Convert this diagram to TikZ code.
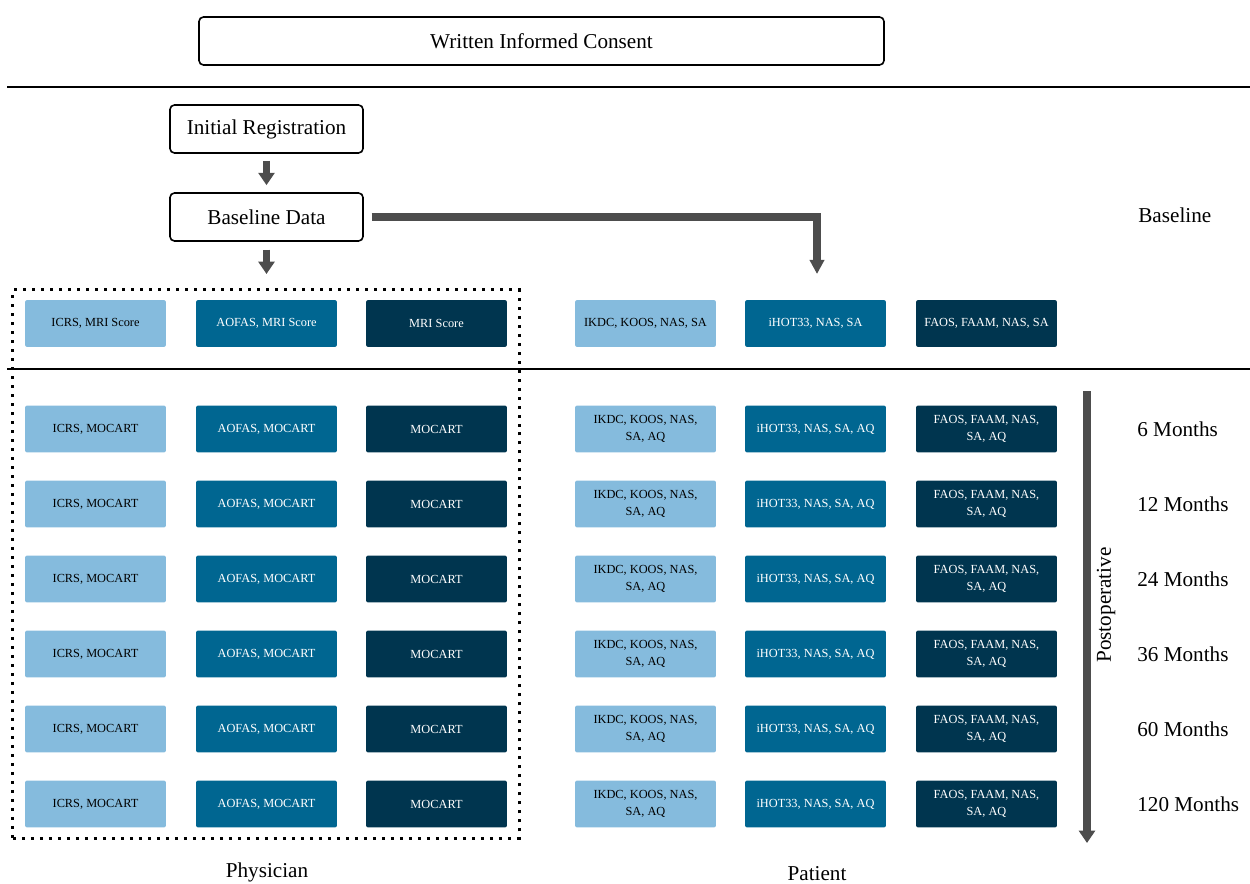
\documentclass[tikz,border=0pt]{standalone}
\usepackage{fontspec}
\setmainfont{Liberation Serif}
\usetikzlibrary{arrows.meta}
\definecolor{lightb}{HTML}{85BBDD}
\definecolor{midb}{HTML}{006691}
\definecolor{darkb}{HTML}{00354F}
\definecolor{arrowgray}{HTML}{4D4D4D}
\begin{document}
\begin{tikzpicture}[x=0.5669pt,y=-0.5669pt,
 frame/.style={draw=black, line width=0.9pt, rounded corners=2.5pt, fill=white, font=\fontsize{12}{14}\selectfont, inner sep=0pt},
 cell/.style={rounded corners=1.2pt, minimum width=79.9pt, minimum height=26.6pt, inner sep=0pt, align=center, font=\fontsize{7}{9.5}\selectfont},
 c1/.style={cell, fill=lightb, text=black},
 c2/.style={cell, fill=midb, text=white},
 c3/.style={cell, fill=darkb, text=white},
 bigarrow/.style={draw=arrowgray, line width=4pt, -{Triangle[width=9pt,length=7pt]}},
 rule/.style={draw=black, line width=1.1pt},
 lbl/.style={font=\fontsize{12}{14}\selectfont, inner sep=0pt}
]
\useasboundingbox (0,0) rectangle (1250,884);

% top boxes
\node[frame, minimum width=388.3pt, minimum height=27.2pt] (wic) at (541.5,41) {Written Informed Consent};
\node[frame, minimum width=109.4pt, minimum height=27.2pt] (ir) at (266.5,129) {Initial Registration};
\node[frame, minimum width=109.4pt, minimum height=27.2pt] (bd) at (266.5,217) {Baseline Data};

% horizontal rules
\coordinate (l1a) at (7,87); \coordinate (l1b) at (1250,87);
\coordinate (l2a) at (7,369); \coordinate (l2b) at (1250,369);
\draw[rule] (l1a) -- (l1b);
\draw[rule] (l2a) -- (l2b);

% arrows
\coordinate (pa) at (266.5,274);
\coordinate (pb) at (817,274);
\draw[bigarrow, shorten <=4pt, shorten >=4pt] (ir) -- (bd);
\draw[bigarrow, shorten <=4.5pt] (bd) -- (pa);
\draw[draw=arrowgray, line width=4.5pt, -{Triangle[width=8pt,length=8pt]}, shorten <=4.5pt] (bd.east) -| (pb);

% physician dotted frame
\node[draw=black, line width=1.7pt, dash pattern=on 1.7pt off 3.4pt, minimum width=286.9pt, minimum height=310.7pt, inner sep=0pt] (phys) at (266,564) {};

% baseline row
\node[c1] (b1) at (95.5,323.5) {ICRS, MRI Score};
\node[c2] (b2) at (266.5,323.5) {AOFAS, MRI Score};
\node[c3] (b3) at (436.5,323.5) {MRI Score};
\node[c1] (b4) at (645.5,323.5) {IKDC, KOOS, NAS, SA};
\node[c2] (b5) at (815.5,323.5) {iHOT33, NAS, SA};
\node[c3] (b6) at (986.5,323.5) {FAOS, FAAM, NAS, SA};
\node[lbl, anchor=west] (basel) at (1138,215) {Baseline};

% postoperative rows
\foreach \y/\m [count=\i] in {429/6, 504/12, 579/24, 654/36, 729/60, 804/120} {
  \node[c1] (r\i a) at (95.5,\y) {ICRS, MOCART};
  \node[c2] (r\i b) at (266.5,\y) {AOFAS, MOCART};
  \node[c3] (r\i c) at (436.5,\y) {MOCART};
  \node[c1] (r\i d) at (645.5,\y) {IKDC, KOOS, NAS,\\SA, AQ};
  \node[c2] (r\i e) at (815.5,\y) {iHOT33, NAS, SA, AQ};
  \node[c3] (r\i f) at (986.5,\y) {FAOS, FAAM, NAS,\\SA, AQ};
  \node[lbl, anchor=west] (m\i) at (1137,\y) {\m{} Months};
}

% timeline arrow
\coordinate (ts) at (1087,391);
\coordinate (te) at (1087,843);
\draw[draw=arrowgray, line width=4pt, -{Triangle[width=9pt,length=7pt]}] (ts) -- (te);
\node[lbl, rotate=90] (post) at (1106,605) {Postoperative};

% bottom labels
\node[lbl] (physl) at (267,872) {Physician};
\node[lbl] (patl) at (817,874) {Patient};
\end{tikzpicture}
\end{document}
